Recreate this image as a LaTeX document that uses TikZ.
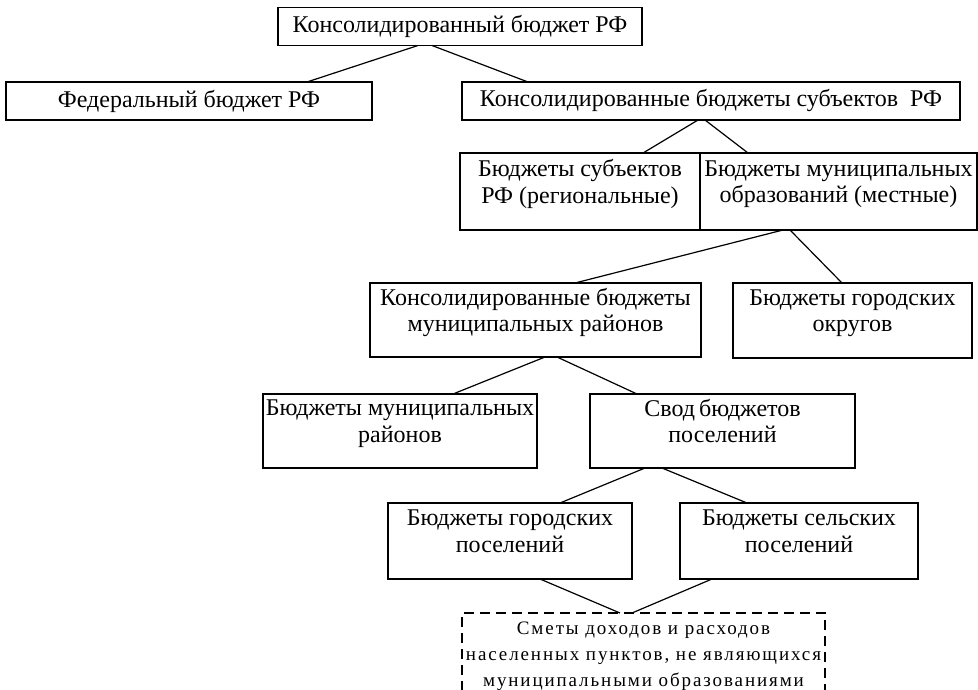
\documentclass[tikz,border=0pt]{standalone}
\usepackage{fontspec}
\setmainfont{Liberation Serif}
\newfontfamily\spacedfont[LetterSpace=10]{Liberation Serif}
\usetikzlibrary{positioning}
\tikzset{
  budget/.style={
    draw, line width=1.8pt, outer sep=0pt, inner xsep=2pt, inner ysep=0pt,
    align=center, font=\fontsize{24}{26.5}\selectfont, minimum height=38pt
  },
  twoline/.style={budget, minimum height=75pt, text depth=20pt},
  estimate/.style={
    budget, line width=1.5pt, dash pattern=on 10pt off 6pt,
    font=\spacedfont\fontsize{19}{26}\selectfont, text depth=4pt
  },
  link/.style={draw, line width=1.2pt},
}
\begin{document}
\begin{tikzpicture}[x=1pt, y=-1pt]
  \useasboundingbox (0,0) rectangle (978,690);
  \node[budget, minimum width=364pt] (cons) at (460,26.5) {Консолидированный бюджет РФ};
  \node[budget, minimum width=366pt] (fed) at (189,101) {Федеральный бюджет РФ};
  \node[budget, minimum width=498pt] (subj) at (711,101) {Консолидированные бюджеты субъектов\ \ РФ};
  \node[twoline, minimum width=240pt, minimum height=77pt] (spl) at (580,191.5) {Бюджеты субъектов\\РФ (региональные)};
  \node[twoline, minimum width=277pt, minimum height=77pt, right=0pt of spl] (spr) {Бюджеты муниципальных\\образований (местные)};
  \node[twoline, minimum width=331pt, minimum height=74pt] (mdist) at (535.5,320) {Консолидированные бюджеты\\муниципальных районов};
  \node[twoline, minimum width=239pt] (gokrug) at (852.5,320.5) {Бюджеты городских\\округов};
  \node[twoline, minimum width=274pt, minimum height=74pt] (mraion) at (400,431) {Бюджеты муниципальных\\районов};
  \node[twoline, minimum width=265pt, minimum height=74pt] (svod) at (722.5,431) {Свод\,бюджетов\\поселений};
  \node[twoline, minimum width=244pt, minimum height=76pt] (gpos) at (510,541) {Бюджеты городских\\поселений};
  \node[twoline, minimum width=238pt, minimum height=76pt] (spos) at (799,541) {Бюджеты сельских\\поселений};
  \node[estimate, minimum width=363pt, minimum height=86pt] (smeta) at (643.5,656) {Сметы доходов и расходов\\населенных пунктов, не являющихся\\муниципальными образованиями};

  \path[link] ([xshift=-42pt]cons.south) -- ([xshift=118pt]fed.north);
  \path[link] ([xshift=-28pt]cons.south) -- ([xshift=-183pt]subj.north);
  \path[link] ([xshift=-13pt]subj.south) -- ([xshift=63pt]spl.north);
  \path[link] ([xshift=-6pt]subj.south) -- ([xshift=-90.5pt]spr.north);
  \path[link] ([xshift=-55.5pt]spr.south) -- ([xshift=39.5pt]mdist.north);
  \path[link] ([xshift=-48.5pt]spr.south) -- ([xshift=-10.5pt]gokrug.north);
  \path[link] ([xshift=9.5pt]mdist.south) -- ([xshift=53pt]mraion.north);
  \path[link] ([xshift=21.5pt]mdist.south) -- ([xshift=-85.5pt]svod.north);
  \path[link] ([xshift=-77.5pt]svod.south) -- ([xshift=50pt]gpos.north);
  \path[link] ([xshift=-60.5pt]svod.south) -- ([xshift=-52pt]spos.north);
  \path[link] ([xshift=30pt]gpos.south) -- ([xshift=-23.5pt]smeta.north);
  \path[link] ([xshift=-87pt]spos.south) -- ([xshift=-11.5pt]smeta.north);
\end{tikzpicture}
\end{document}
